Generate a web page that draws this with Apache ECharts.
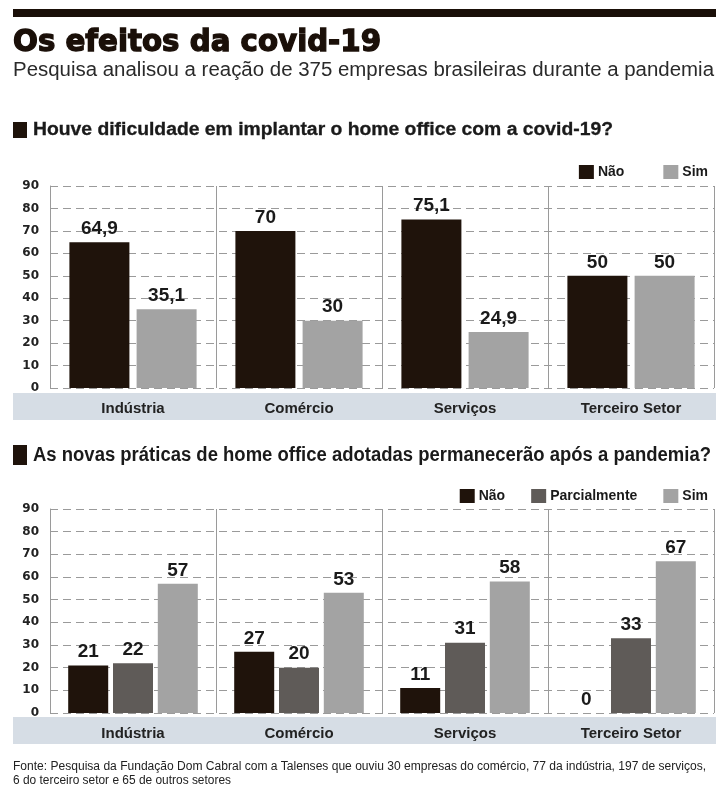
<!DOCTYPE html>
<html>
<head>
<meta charset="utf-8">
<script src="https://cdn.jsdelivr.net/npm/echarts@6/dist/echarts.min.js"></script>
<style>
  html, body { margin: 0; padding: 0; background: #fff; }
  #main { width: 716px; height: 790px; }
</style>
</head>
<body>
<div id="main"></div>
<script>
// dados
var categorias = ['Indústria', 'Comércio', 'Serviços', 'Terceiro Setor'];
var dificuldadeNao = [64.9, 70, 75.1, 50];
var dificuldadeSim = [35.1, 30, 24.9, 50];
var praticasNao = [21, 27, 11, 0];
var praticasParcial = [22, 20, 31, 33];
var praticasSim = [57, 53, 58, 67];
var eixoMax = 90;
var eixoPasso = 10;

var corNao = '#1f130b';
var corParcial = '#5f5b58';
var corSim = '#a3a3a3';

// ajusta a largura de um texto (fontes condensadas não estão instaladas)
function escala(texto, fonte, largura) {
    var ctx = document.createElement('canvas').getContext('2d');
    ctx.font = fonte;
    return largura / ctx.measureText(texto).width;
}

function textoFixo(texto, fonte, x, y, largura, cor, contorno) {
    var estilo = { text: texto, font: fonte, fill: cor || '#1a1a1a', verticalAlign: 'middle' };
    if (contorno) {
        estilo.stroke = cor;
        estilo.lineWidth = contorno;
    }
    return {
        type: 'text',
        x: x, y: y,
        scaleX: escala(texto, fonte, largura),
        style: estilo
    };
}

function rotulo(p) {
    return String(p.value).replace('.', ',');
}

function serie(nome, dados, cor, eixo, largura) {
    return {
        type: 'bar',
        name: nome,
        data: dados,
        xAxisIndex: eixo,
        yAxisIndex: eixo,
        barWidth: largura,
        barGap: '12%',
        itemStyle: { color: cor },
        label: {
            show: true,
            position: 'top',
            distance: 4,
            formatter: rotulo,
            color: '#1a1a1a',
            fontFamily: 'Liberation Sans',
            fontWeight: 'bold',
            fontSize: 19
        }
    };
}

function eixoX(grid) {
    return {
        type: 'category',
        gridIndex: grid,
        data: categorias,
        boundaryGap: true,
        axisLine: { show: false },
        axisTick: { show: false },
        axisLabel: {
            margin: 13,
            color: '#222',
            fontFamily: 'Liberation Sans',
            fontWeight: 'bold',
            fontSize: 15
        },
        splitLine: { show: true, lineStyle: { color: '#9a9a9a', width: 1 } }
    };
}

function eixoY(grid) {
    return {
        type: 'value',
        gridIndex: grid,
        min: 0,
        max: eixoMax,
        interval: eixoPasso,
        axisLine: { show: true, lineStyle: { color: '#9a9a9a' } },
        axisTick: { show: false },
        axisLabel: {
            margin: 11,
            color: '#222',
            fontFamily: 'DejaVu Sans',
            fontWeight: 'bold',
            fontSize: 12
        },
        splitLine: { show: true, lineStyle: { color: '#9a9a9a', type: [8, 5] } }
    };
}

function legenda(nomes, topo, gap) {
    return {
        data: nomes,
        right: 3,
        top: topo,
        icon: 'rect',
        itemWidth: 15,
        itemHeight: 14,
        itemGap: gap,
        selectedMode: false,
        textStyle: {
            color: '#1a1a1a',
            fontFamily: 'Liberation Sans',
            fontWeight: 'bold',
            fontSize: 14,
            padding: [0, 0, 0, -1]
        }
    };
}

var grafico = echarts.init(document.getElementById('main'));

var opcoes = {
    backgroundColor: '#fff',
    animation: false,
    graphic: [
        { type: 'rect', z: -10, shape: { x: 13, y: 9, width: 703, height: 8 }, style: { fill: '#1a0f08' } },
        textoFixo('Os efeitos da covid-19', 'bold 31px "DejaVu Sans"', 13, 43, 368, '#1a0f08', 1.4),
        textoFixo('Pesquisa analisou a reação de 375 empresas brasileiras durante a pandemia', '20px "Liberation Sans Narrow", "Liberation Sans"', 13, 70, 701, '#2a2a2a'),
        { type: 'rect', z: -10, shape: { x: 13, y: 122, width: 14, height: 16 }, style: { fill: corNao } },
        textoFixo('Houve dificuldade em implantar o home office com a covid-19?', 'bold 18px "Liberation Sans"', 33, 130, 580, '#1a1a1a', 0.3),
        { type: 'rect', z: -10, shape: { x: 13, y: 445, width: 14, height: 20 }, style: { fill: corNao } },
        textoFixo('As novas práticas de home office adotadas permanecerão após a pandemia?', 'bold 20px "Liberation Sans Narrow", "Liberation Sans"', 33, 455, 678, '#1a1a1a'),
        { type: 'rect', z: -10, shape: { x: 13, y: 393, width: 703, height: 27 }, style: { fill: '#d6dde5' } },
        { type: 'rect', z: -10, shape: { x: 13, y: 717, width: 703, height: 27 }, style: { fill: '#d6dde5' } },
        textoFixo('Fonte: Pesquisa da Fundação Dom Cabral com a Talenses que ouviu 30 empresas do comércio, 77 da indústria, 197 de serviços,', '12.5px "Liberation Sans Narrow", "Liberation Sans"', 13, 767, 693, '#222'),
        textoFixo('6 do terceiro setor e 65 de outros setores', '12.5px "Liberation Sans Narrow", "Liberation Sans"', 13, 781, 218, '#222')
    ],
    legend: [
        legenda(['Não', 'Sim'], 160, 39),
        legenda(['Não', 'Parcialmente', 'Sim'], 484, 26)
    ],
    grid: [
        { left: 50, top: 186, width: 664, height: 202 },
        { left: 50, top: 509, width: 664, height: 204 }
    ],
    xAxis: [eixoX(0), eixoX(1)],
    yAxis: [eixoY(0), eixoY(1)],
    series: [
        serie('Não', dificuldadeNao, corNao, 0, 60),
        serie('Sim', dificuldadeSim, corSim, 0, 60),
        serie('Não', praticasNao, corNao, 1, 40),
        serie('Parcialmente', praticasParcial, corParcial, 1, 40),
        serie('Sim', praticasSim, corSim, 1, 40)
    ]
};

grafico.setOption(opcoes);
</script>
</body>
</html>
